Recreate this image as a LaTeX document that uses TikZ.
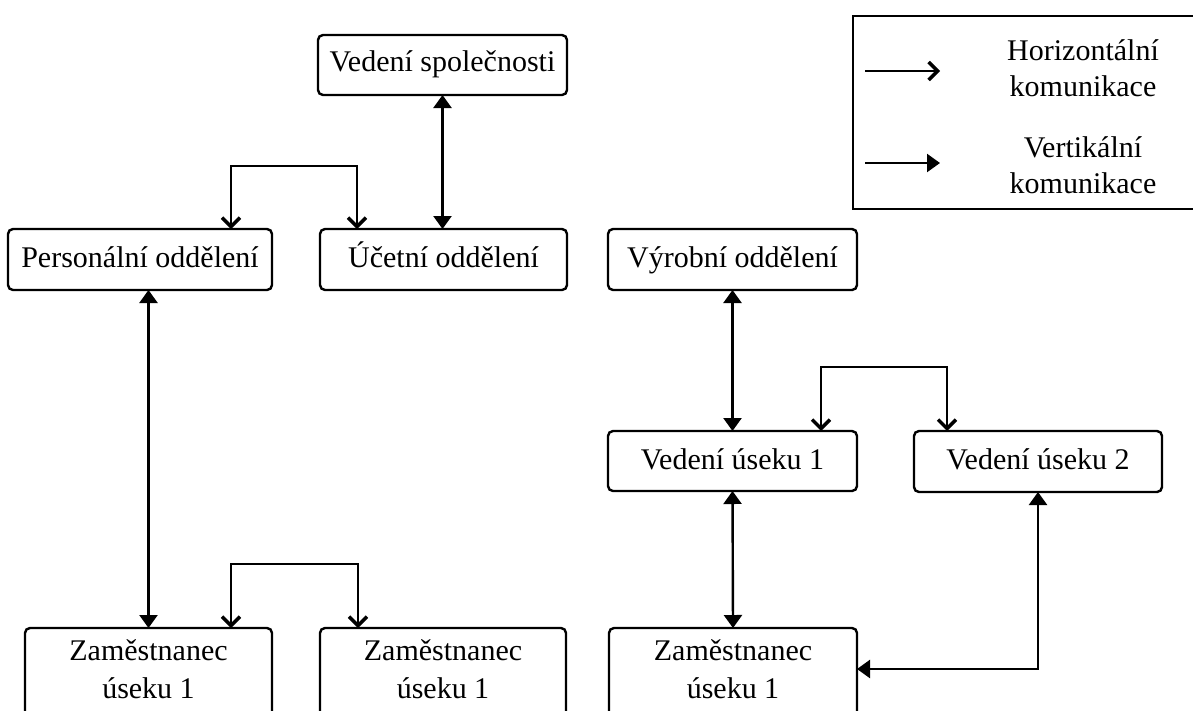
\documentclass[tikz,border=0pt]{standalone}
\usepackage{fontspec}
\setmainfont{Liberation Serif}
\usetikzlibrary{arrows.meta,calc}

% two centred lines whose baseline is the first line
\newcommand{\twoline}[2]{\begin{tabular}[t]{@{}c@{}}#1\\#2\end{tabular}}

\tikzset{
  box/.style={draw, line width=2.4pt, rounded corners=5pt, inner xsep=0pt,
    inner ysep=0pt, outer sep=0pt, anchor=north, text height=38pt,
    text depth=23pt, font=\fontsize{30}{38}\selectfont},
  tallbox/.style={box, text height=32pt, text depth=68pt},
  legtext/.style={anchor=base, inner sep=0pt, outer sep=0pt,
    font=\fontsize{30}{36}\selectfont},
  link/.style={line width=2.4pt},
  vtip/.tip={Triangle[length=13pt,width=18pt]},
  htip/.tip={Straight Barb[length=9pt,width=18pt,line width=3.4pt]},
  vcom/.style={link, vtip-vtip},
  hcom/.style={link, htip-htip},
}

\begin{document}
\begin{tikzpicture}[x=1pt,y=-1pt]
  \useasboundingbox (0,0) rectangle (1193,710);
  \clip (0,0) rectangle (1193,710);
  \fill[white] (0,0) rectangle (1193,710);

  % boxes
  \node[box, minimum width=249pt, text height=36pt, text depth=24pt] (spol) at (442.5,35) {Vedení společnosti};
  \node[box, minimum width=264pt] (pers) at (140,229) {Personální oddělení};
  \node[box, minimum width=247pt] (uct) at (443.5,229) {Účetní oddělení};
  \node[box, minimum width=249pt] (vyr) at (732.5,229) {Výrobní oddělení};
  \node[box, minimum width=249pt, text depth=22pt] (vu1) at (732.5,431) {Vedení úseku 1};
  \node[box, minimum width=248pt] (vu2) at (1038,431) {Vedení úseku 2};
  \node[tallbox, minimum width=247pt] (zam1) at (148.5,628) {\twoline{Zaměstnanec}{úseku 1}};
  \node[tallbox, minimum width=246pt] (zam2) at (443,628) {\twoline{Zaměstnanec}{úseku 1}};
  \node[tallbox, minimum width=248pt] (zam3) at (733,628) {\twoline{Zaměstnanec}{úseku 1}};

  % vertical communication
  \draw[vcom] (spol.south) -- (spol.south |- uct.north);
  \draw[vcom] (pers.south -| zam1.north) -- (zam1.north);
  \draw[vcom] (vyr.south) -- (vu1.north);
  \draw[vcom] (vu1.south) -- (zam3.north);
  \coordinate (zin) at ([yshift=-41pt]zam3.north east);
  \draw[vcom] (zin) -| (vu2.south);

  % horizontal communication
  \coordinate (pa) at ([xshift=91pt]pers.north);
  \coordinate (ua) at ([xshift=-86.5pt]uct.north);
  \coordinate (t1) at (0,166);
  \draw[hcom] (pa) -- (pa |- t1) -- (ua |- t1) -- (ua);

  \coordinate (za) at ([xshift=82.5pt]zam1.north);
  \coordinate (zb) at ([xshift=-85pt]zam2.north);
  \coordinate (t2) at (0,564);
  \draw[hcom] (za) -- (za |- t2) -- (zb |- t2) -- (zb);

  \coordinate (va) at ([xshift=88.5pt]vu1.north);
  \coordinate (vb) at ([xshift=-91pt]vu2.north);
  \coordinate (t3) at (0,367);
  \draw[hcom] (va) -- (va |- t3) -- (vb |- t3) -- (vb);

  % legend
  \node[draw, line width=2.4pt, minimum width=360pt, minimum height=193pt,
    anchor=north west, inner sep=0pt, outer sep=0pt] (legend) at (853,16) {};
  \coordinate (h0) at (865,71);
  \coordinate (h1) at (940,71);
  \draw[link, -htip] (h0) -- (h1);
  \coordinate (v0) at (865,163);
  \coordinate (v1) at (940,163);
  \draw[link, -vtip] (v0) -- (v1);
  \node[legtext] (htext) at (1083,60) {\twoline{Horizontální}{komunikace}};
  \node[legtext] (vtext) at (1083,157) {\twoline{Vertikální}{komunikace}};
\end{tikzpicture}
\end{document}
